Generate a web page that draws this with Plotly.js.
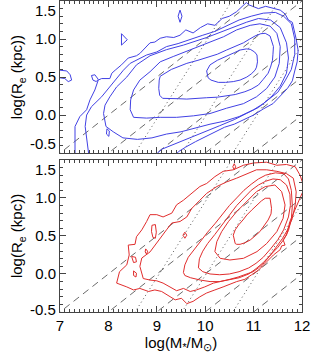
<!DOCTYPE html>
<html><head><meta charset="utf-8">
<script src="https://cdn.plot.ly/plotly-3.0.1.min.js"></script>
<style>html,body{margin:0;padding:0;background:#fff}#chart{width:314px;height:359px}</style>
</head><body><div id="chart"></div>
<script>
// ---- axis tick data ----
const xTickVals = [7, 8, 9, 10, 11, 12];
const xTickText = ['7', '8', '9', '10', '11', '12'];
const yTickVals = [0, 0.5, 1.0];
const yTickText = ['0.0', '0.5', '1.0'];
const yEdgeLabels = ['1.5', '-0.5'];

// ---- reference lines ----
const dashSlope = 0.5;
const dashIntercepts = [-4.0, -4.5, -5.0, -5.5, -6.0];
const dotSlope = 1.0;
const dotIntercepts = [-9.05, -10.02, -11.07];

// ---- top panel (blue) contours ----
const blueC1x = [10.03,10.10,10.25,10.44,10.60,10.72,10.85,10.93,11.02,11.07,11.08,11.06,11.03,10.95,10.86,10.72,10.58,10.42,10.27,10.12,10.06,10.03];
const blueC1y = [0.58,0.66,0.72,0.77,0.82,0.855,0.87,0.865,0.83,0.79,0.70,0.63,0.59,0.54,0.50,0.46,0.44,0.43,0.43,0.46,0.49,0.58];
const blueC2x = [9.05,9.07,9.30,9.62,9.85,10.03,10.25,10.44,10.62,10.79,10.92,11.03,11.15,11.24,11.34,11.41,11.40,11.39,11.35,11.30,11.20,11.10,10.95,10.82,10.62,10.44,10.25,10.03,9.82,9.62,9.45,9.27,9.12,9.06,9.04,9.05];
const blueC2y = [0.46,0.51,0.60,0.68,0.72,0.76,0.80,0.855,0.90,0.95,1.00,1.04,1.07,1.075,1.04,0.90,0.80,0.72,0.63,0.55,0.47,0.395,0.34,0.307,0.27,0.25,0.235,0.228,0.22,0.21,0.215,0.215,0.22,0.26,0.35,0.46];
const blueC3x = [8.45,8.46,8.52,8.65,8.86,9.07,9.34,9.69,10.03,10.38,10.65,10.93,11.13,11.34,11.48,11.55,11.53,11.44,11.27,11.06,10.79,10.44,10.10,9.76,9.41,9.07,8.79,8.52,8.45];
const blueC3y = [0.07,0.20,0.33,0.46,0.57,0.70,0.77,0.855,0.94,1.03,1.12,1.18,1.20,1.17,1.075,0.90,0.68,0.50,0.35,0.24,0.15,0.09,0.02,-0.01,-0.03,-0.03,-0.04,-0.03,0.07];
const blueC4x = [7.95,7.90,7.93,8.03,8.17,8.38,8.58,8.86,9.20,9.55,10.03,10.31,10.58,10.85,11.1,11.35,11.55,11.68,11.72,11.68,11.55,11.38,11.2,11.0,10.7,10.4,10.1,9.8,9.5,9.2,8.9,8.6,8.3,8.1,7.95];
const blueC4y = [-0.15,0.02,0.13,0.24,0.37,0.50,0.66,0.78,0.86,0.92,1.02,1.09,1.15,1.22,1.27,1.25,1.15,0.95,0.75,0.55,0.38,0.25,0.15,0.07,-0.02,-0.08,-0.12,-0.17,-0.22,-0.25,-0.3,-0.32,-0.3,-0.22,-0.15];
const blueC5x = [7.60,7.52,7.55,7.65,7.86,8.03,8.17,8.31,8.45,8.65,8.79,9.00,9.20,9.44,9.7,9.95,10.2,10.45,10.7,10.95,11.2,11.45,11.62,11.78,11.85,11.85,11.78,11.65,11.5,11.3,11.1,10.85,10.6,10.3,10.0,9.7,9.4,9.1,8.93];
const blueC5y = [-0.55,-0.15,0.0,0.11,0.24,0.37,0.48,0.59,0.68,0.75,0.79,0.83,0.90,0.94,1.0,1.05,1.1,1.18,1.25,1.3,1.34,1.35,1.3,1.2,1.0,0.8,0.6,0.45,0.3,0.2,0.1,0.02,-0.06,-0.14,-0.22,-0.3,-0.38,-0.45,-0.55];
const blueC6x = [7.31,7.31,7.41,7.55,7.62,7.72,7.79,7.86,8.03,8.07,8.14,8.27,8.41,8.58,8.65,8.79,8.86,8.96,9.07,9.20,9.35,9.48,9.6,9.75,9.9,10.05,10.2,10.35,10.5,10.65,10.75,10.85,10.9,11.0,11.1,11.25,11.4,11.55,11.65,11.72,11.8,11.85,11.88,11.92,11.9,11.85,11.8,11.7,11.55,11.4,11.2,11.0,10.8,10.6,10.4,10.2,10.0,9.8,9.6,9.45,9.35];
const blueC6y = [-0.55,-0.15,-0.02,0.07,0.20,0.33,0.46,0.48,0.48,0.55,0.59,0.66,0.75,0.78,0.81,0.90,0.95,0.96,1.01,1.03,1.02,1.05,1.12,1.08,1.15,1.2,1.18,1.27,1.3,1.36,1.42,1.48,1.45,1.42,1.4,1.43,1.41,1.38,1.33,1.25,1.22,1.1,1.0,0.85,0.7,0.58,0.45,0.35,0.25,0.15,0.08,0.0,-0.06,-0.12,-0.16,-0.22,-0.28,-0.35,-0.42,-0.48,-0.55];
const blueIsle1x = [8.27,8.39,8.27,8.27];
const blueIsle1y = [1.07,0.99,0.92,1.07];
const blueIsle2x = [9.48,9.52,9.48,9.44,9.48];
const blueIsle2y = [1.38,1.30,1.22,1.30,1.38];
const blueIsle3x = [7.0,7.14,7.21,7.24,7.17,7.10,7.0];
const blueIsle3y = [0.59,0.58,0.53,0.46,0.44,0.48,0.49];
const blueIsle4x = [7.65,7.72,7.79,7.75,7.68,7.65];
const blueIsle4y = [0.52,0.53,0.47,0.44,0.46,0.52];
const blueIsle5x = [7.97,8.02,8.01,7.96,7.97];
const blueIsle5y = [-0.18,-0.21,-0.28,-0.25,-0.18];

// ---- bottom panel (red) contours ----
const redC1x = [10.62,10.58,10.62,10.69,10.78,10.86,10.96,11.07,11.16,11.24,11.30,11.34,11.37,11.36,11.30,11.22,11.13,11.03,10.93,10.82,10.72,10.65,10.62];
const redC1y = [0.40,0.51,0.58,0.645,0.71,0.776,0.84,0.908,0.96,0.996,1.0,0.996,0.864,0.79,0.71,0.63,0.557,0.50,0.447,0.41,0.39,0.39,0.40];
const redC2x = [10.20,10.24,10.34,10.48,10.65,10.86,11.06,11.24,11.44,11.58,11.65,11.61,11.48,11.27,11.07,10.79,10.51,10.31,10.20];
const redC2y = [0.294,0.425,0.557,0.689,0.82,0.952,1.083,1.149,1.17,1.083,0.908,0.732,0.557,0.40,0.294,0.206,0.184,0.206,0.294];
const redC3x = [9.86,9.88,9.95,10.05,10.2,10.35,10.5,10.65,10.8,10.95,11.1,11.25,11.4,11.55,11.68,11.75,11.76,11.72,11.62,11.5,11.35,11.2,11.05,10.9,10.7,10.5,10.3,10.1,9.95,9.86];
const redC3y = [0.08,0.2,0.3,0.4,0.52,0.65,0.78,0.9,1.0,1.1,1.17,1.22,1.25,1.24,1.17,1.05,0.9,0.75,0.58,0.45,0.33,0.22,0.14,0.08,0.03,0.0,-0.01,0.0,0.03,0.08];
const redC4x = [9.55,9.58,9.65,9.78,9.92,10.05,10.2,10.35,10.5,10.65,10.8,10.95,11.1,11.25,11.45,11.62,11.72,11.78,11.80,11.78,11.72,11.62,11.5,11.35,11.2,11.05,10.9,10.7,10.5,10.3,10.1,9.9,9.7,9.58,9.55];
const redC4y = [0.02,0.12,0.22,0.33,0.45,0.55,0.66,0.78,0.9,1.0,1.1,1.18,1.25,1.3,1.33,1.32,1.25,1.1,0.9,0.72,0.57,0.45,0.35,0.25,0.15,0.07,0.0,-0.05,-0.08,-0.1,-0.1,-0.08,-0.05,-0.02,0.02];
const redC5x = [8.65,8.69,8.86,8.96,9.07,9.20,9.31,9.48,9.62,9.72,9.89,10.03,10.24,10.44,10.65,10.86,11.06,11.27,11.48,11.68,11.82,11.88,11.86,11.80,11.70,11.60,11.48,11.35,11.22,11.10,10.99,10.86,10.68,10.51,10.34,10.17,9.99,9.82,9.69,9.55,9.41,9.27,9.13,9.00,8.86,8.72,8.65];
const redC5y = [0.10,0.21,0.29,0.38,0.47,0.58,0.67,0.69,0.75,0.86,0.97,1.06,1.15,1.21,1.26,1.32,1.37,1.37,1.35,1.32,1.26,1.08,0.91,0.73,0.58,0.47,0.36,0.25,0.15,0.08,0.03,0.0,-0.04,-0.07,-0.10,-0.12,-0.17,-0.21,-0.23,-0.19,-0.22,-0.17,-0.12,-0.09,-0.08,-0.06,0.10];
const redC6x = [8.17,8.23,8.38,8.43,8.41,8.55,8.58,8.69,8.79,8.86,9.00,9.13,9.31,9.41,9.55,9.72,9.89,10.03,10.20,10.37,10.58,10.79,11.0,11.27,11.48,11.68,11.86,11.96,12.05,11.96,11.86,11.75,11.68,11.61,11.65,11.58,11.55,11.41,11.27,11.10,10.96,10.82,10.65,10.51,10.37,10.20,10.03,9.89,9.75,9.62,9.51,9.38,9.24,9.10,8.96,8.83,8.65,8.52,8.38,8.24,8.17];
const redC6y = [-0.12,0.03,0.12,0.25,0.38,0.39,0.49,0.58,0.69,0.78,0.78,0.75,0.80,0.91,0.97,1.06,1.15,1.19,1.28,1.35,1.37,1.43,1.46,1.47,1.43,1.44,1.41,1.30,1.13,1.0,0.86,0.69,0.51,0.45,0.38,0.37,0.32,0.25,0.16,0.05,-0.01,-0.07,-0.10,-0.14,-0.17,-0.21,-0.25,-0.30,-0.36,-0.39,-0.32,-0.34,-0.28,-0.23,-0.21,-0.23,-0.19,-0.21,-0.17,-0.14,-0.12];
const redIsle1x = [8.90,8.97,8.99,8.97,8.92,8.89,8.90];
const redIsle1y = [0.64,0.65,0.55,0.47,0.48,0.56,0.64];
const redIsle2x = [9.58,9.62,9.58,9.54,9.58];
const redIsle2y = [0.55,0.51,0.47,0.51,0.55];
const redIsle3x = [8.77,8.81,8.79,8.76,8.77];
const redIsle3y = [0.33,0.30,0.26,0.29,0.33];
const redIsle4x = [8.48,8.56,8.58,8.52,8.48];
const redIsle4y = [0.23,0.22,0.16,0.15,0.23];
const redIsle5x = [8.52,8.58,8.57,8.52,8.52];
const redIsle5y = [0.04,0.01,-0.04,-0.02,0.04];
const redIsle6x = [10.60,10.63,10.60,10.57,10.60];
const redIsle6y = [1.45,1.41,1.37,1.41,1.45];

const BLUE = 'rgb(65,65,228)';
const RED = 'rgb(225,45,45)';
const traces = [];
function addRefLines(xa, ya) {
  const xs = [6.5, 12.5];
  dashIntercepts.forEach(b => traces.push({x: xs, y: xs.map(v => dashSlope * v + b), xaxis: xa, yaxis: ya,
    mode: 'lines', line: {color: '#444', width: 0.8, dash: '7px,5px'}, hoverinfo: 'skip'}));
  dotIntercepts.forEach(b => traces.push({x: xs, y: xs.map(v => dotSlope * v + b), xaxis: xa, yaxis: ya,
    mode: 'lines', line: {color: '#444', width: 0.9, dash: '1px,3px'}, hoverinfo: 'skip'}));
}
function addContours(list, color, xa, ya) {
  list.forEach(([cx, cy]) => traces.push({x: cx, y: cy, xaxis: xa, yaxis: ya, mode: 'lines',
    line: {color: color, width: 1.0}, hoverinfo: 'skip'}));
}
addRefLines('x2', 'y2');
addRefLines('x', 'y');
addContours([[blueC1x, blueC1y], [blueC2x, blueC2y], [blueC3x, blueC3y], [blueC4x, blueC4y], [blueC5x, blueC5y], [blueC6x, blueC6y],
  [blueIsle1x, blueIsle1y], [blueIsle2x, blueIsle2y], [blueIsle3x, blueIsle3y], [blueIsle4x, blueIsle4y], [blueIsle5x, blueIsle5y]], BLUE, 'x2', 'y2');
addContours([[redC1x, redC1y], [redC2x, redC2y], [redC3x, redC3y], [redC4x, redC4y], [redC5x, redC5y], [redC6x, redC6y],
  [redIsle1x, redIsle1y], [redIsle2x, redIsle2y], [redIsle3x, redIsle3y], [redIsle4x, redIsle4y], [redIsle5x, redIsle5y], [redIsle6x, redIsle6y]], RED, 'x', 'y');

const FONT = {family: 'Liberation Sans, Arial, Helvetica, sans-serif', size: 15, color: '#000'};
const AXC = '#444';
function xAx(extra) {
  return Object.assign({range: [7, 12], tickmode: 'array', tickvals: xTickVals, ticktext: xTickText,
    ticks: 'inside', ticklen: 6, tickwidth: 1, tickcolor: AXC, mirror: 'allticks', showline: true,
    linecolor: AXC, linewidth: 1, showgrid: false, zeroline: false, tickfont: FONT,
    minor: {tickmode: 'linear', tick0: 7, dtick: 0.1, ticks: 'inside', ticklen: 3, tickcolor: AXC, showgrid: false}}, extra);
}
function yAx(extra) {
  return Object.assign({range: [-0.5, 1.5], tickmode: 'array', tickvals: yTickVals, ticktext: yTickText,
    ticks: 'inside', ticklen: 6, tickwidth: 1, tickcolor: AXC, mirror: 'allticks', showline: true,
    linecolor: AXC, linewidth: 1, showgrid: false, zeroline: false, tickfont: FONT,
    title: {text: 'log(R<sub>e</sub> (kpc))', font: FONT, standoff: 8},
    minor: {tickmode: 'linear', tick0: -0.5, dtick: 0.1, ticks: 'inside', ticklen: 3, tickcolor: AXC, showgrid: false}}, extra);
}
const annotations = [];
[['y2', 1.5, 'top', 0], ['y2', -0.5, 'bottom', 0], ['y', 1.5, 'top', 0], ['y', -0.5, 'middle', 3]].forEach(([ya, v, anc, sh]) => {
  annotations.push({xref: 'paper', yref: ya, x: 0, y: v, xanchor: 'right', yanchor: anc, xshift: -3, yshift: sh,
    text: v > 0 ? yEdgeLabels[0] : yEdgeLabels[1], showarrow: false, font: FONT, borderpad: 0});
});

const layout = {
  width: 314, height: 359, paper_bgcolor: '#fff', plot_bgcolor: '#fff', showlegend: false,
  margin: {l: 60, r: 12, t: 1, b: 47},
  xaxis: xAx({domain: [0, 1], anchor: 'y', title: {text: 'log(M<sub>*</sub>/M<sub>\u2299</sub>)', font: FONT, standoff: 2}}),
  xaxis2: xAx({domain: [0, 1], anchor: 'y2', showticklabels: false}),
  yaxis: yAx({domain: [0, 0.489], anchor: 'x'}),
  yaxis2: yAx({domain: [0.511, 1], anchor: 'x2'}),
  annotations: annotations
};
Plotly.newPlot('chart', traces, layout, {displayModeBar: false, staticPlot: true});
</script></body></html>
